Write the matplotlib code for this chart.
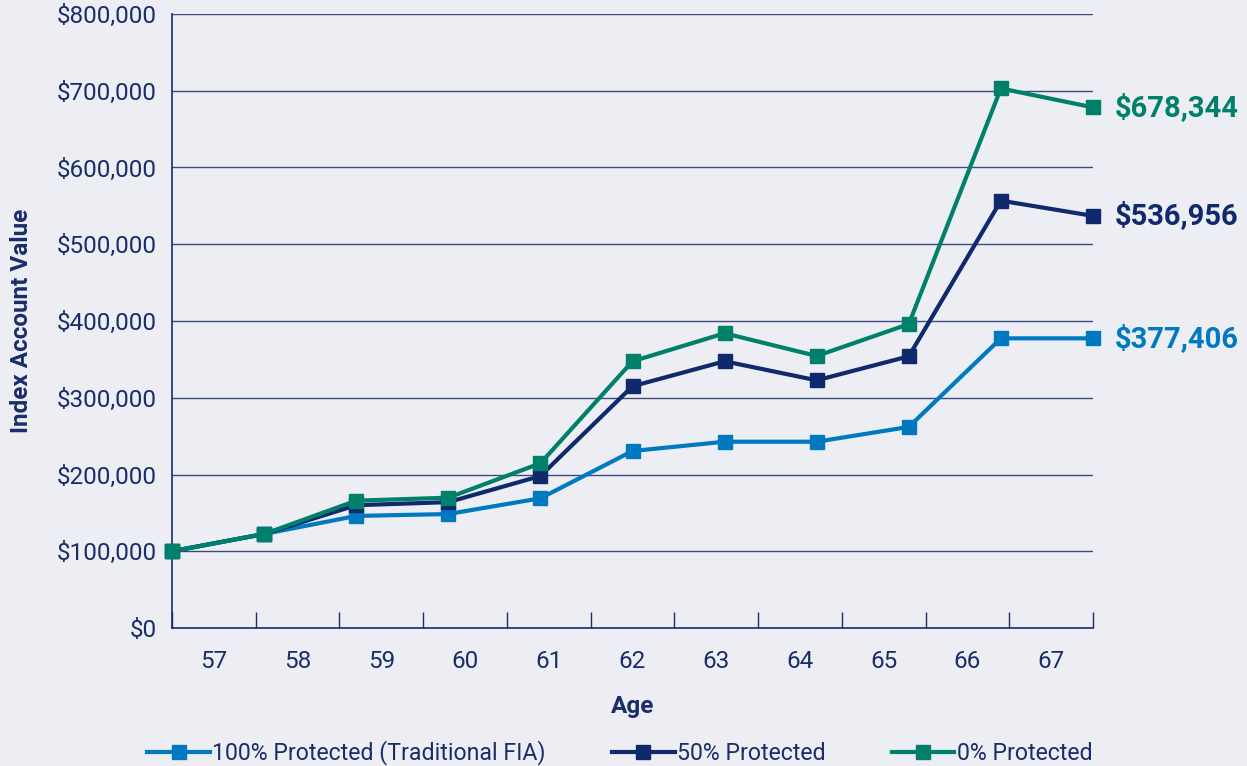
import numpy as np
import matplotlib.pyplot as plt
from matplotlib.ticker import FuncFormatter

# ages shown on the category axis
ages = ['57', '58', '59', '60', '61', '62', '63', '64', '65', '66', '67']

# index account value per year
protected_100 = [100000, 122500, 146000, 148500, 169000, 230600, 242700, 242700, 262000, 377400, 377406]
protected_50 = [100000, 122500, 160000, 164000, 198000, 315000, 347500, 322700, 354000, 556800, 536956]
protected_0 = [100000, 122500, 165900, 169800, 214600, 347500, 384000, 354400, 396000, 703000, 678344]

series_names = ['100% Protected (Traditional FIA)', '50% Protected', '0% Protected']
colors = ['#0079c1', '#10296c', '#00806a']
bg = '#edeef3'
txt = '#1a2d6b'

plt.rcParams['font.family'] = ['Roboto', 'DejaVu Sans']

fig = plt.figure(figsize=(12.47, 7.66), dpi=100, facecolor=bg)
ax = fig.add_axes([172/1247, 1 - 628/766, (1093-172)/1247, (628-14)/766], facecolor=bg)

x = np.arange(len(ages))
all_series = [protected_100, protected_50, protected_0]
for vals, name, c in zip(all_series, series_names, colors):
    ax.plot(x, vals, color=c, lw=3.0, marker='s', ms=9.5, label=name, zorder=3, clip_on=False)

# end labels
for vals, c in zip(all_series, colors):
    ax.annotate('${:,.0f}'.format(vals[-1]), xy=(x[-1], vals[-1]), xytext=(16, 0),
                textcoords='offset points', color=c, fontsize=21, fontweight='bold',
                va='center', ha='left', annotation_clip=False)

ax.set_xlim(0, len(ages) - 1)
ax.set_ylim(0, 800000)

# category bands: ticks on edges, labels in the middle
n = len(ages)
edges = np.linspace(0, n - 1, n + 1)
mids = (edges[:-1] + edges[1:]) / 2
ax.set_xticks(edges)
ax.set_xticklabels([])
ax.set_xticks(mids, minor=True)
ax.set_xticklabels(ages, minor=True)
ax.tick_params(axis='x', which='major', direction='in', length=11.5, width=1, color=txt)
ax.tick_params(axis='x', which='minor', length=0, pad=15.5, labelsize=17.5, labelcolor=txt)

ax.set_yticks(np.arange(0, 800001, 100000))
ax.yaxis.set_major_formatter(FuncFormatter(lambda v, p: '${:,.0f}'.format(v)))
ax.tick_params(axis='y', length=0, pad=11, labelsize=17.5, labelcolor=txt)
ax.grid(axis='y', color=txt, lw=1, alpha=0.85, zorder=1)
ax.set_axisbelow(True)

for s in ['top', 'right']:
    ax.spines[s].set_visible(False)
for s in ['left', 'bottom']:
    ax.spines[s].set_color(txt)
    ax.spines[s].set_linewidth(1.2)

ax.set_xlabel('Age', fontsize=17.5, fontweight='bold', color=txt, labelpad=16)
ax.set_ylabel('Index Account Value', fontsize=17.5, fontweight='bold', color=txt, labelpad=17)

leg = ax.legend(loc='center', bbox_to_anchor=(0.497, 1 - 753/766), bbox_transform=fig.transFigure,
                ncol=3, frameon=False, fontsize=16.7, handlelength=2.7, handletextpad=0.1,
                columnspacing=2.85)
for t in leg.get_texts():
    t.set_color(txt)

fig.savefig('out.png', dpi=100, facecolor=bg)
